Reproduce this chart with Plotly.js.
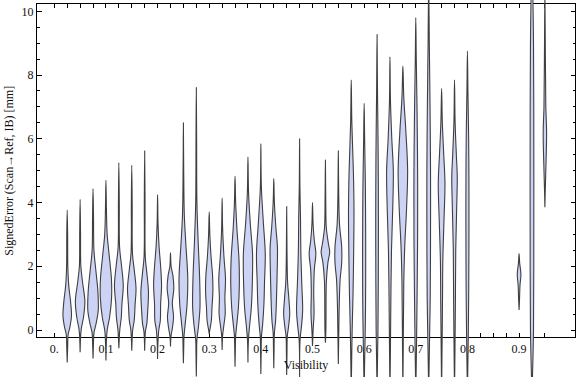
<!DOCTYPE html>
<html>
<head>
<meta charset="utf-8">
<script src="https://cdn.plot.ly/plotly-3.0.1.min.js"></script>
<style>html,body{margin:0;padding:0;background:#fff;}#chart{width:576px;height:377px;}</style>
</head>
<body>
<div id="chart"></div>
<script>
// Violin centres (Visibility bins)
const visibility = [0.025,0.05,0.075,0.1,0.125,0.15,0.175,0.2,0.225,0.25,0.275,0.3,0.325,0.35,0.375,0.4,
  0.425,0.45,0.475,0.5,0.525,0.55,0.575,0.6,0.625,0.65,0.675,0.7,0.725,0.75,0.775,0.8,0.9,0.925,0.95];

// Density profile of each violin: signed error levels (mm), top to bottom
const knotY = [
  [3.76,3.0,2.0,1.4,0.9,0.45,0.1,-0.15,-0.5,-1.02],
  [4.1,3.0,2.0,1.5,0.9,0.4,0.05,-0.2,-0.7],
  [4.44,3.5,2.5,1.9,1.2,0.6,0.2,-0.1,-0.5,-0.89],
  [4.7,3.8,3.0,2.4,1.6,1.0,0.4,0.0,-0.4,-0.96],
  [5.25,4.0,2.6,2.0,1.4,0.8,0.4,0.0,-0.3,-0.57],
  [5.17,4.0,2.4,1.9,1.3,0.8,0.3,0.0,-0.3,-0.65],
  [5.62,4.0,2.3,1.8,1.2,0.6,0.2,-0.05,-0.3,-0.65],
  [4.25,3.3,2.6,2.0,1.4,0.8,0.3,0.0,-0.4,-0.91],
  [2.42,2.0,1.7,1.3,0.85,0.4,0.05,-0.2,-0.52],
  [6.5,5.0,3.6,2.7,1.6,0.8,0.2,-0.2,-0.6,-1.04],
  [7.61,6.0,4.0,2.8,1.6,0.7,0.1,-0.3,-0.8,-1.46],
  [3.71,3.0,2.3,1.7,1.2,0.7,0.3,0.0,-0.12],
  [4.14,3.2,2.3,1.6,1.0,0.5,0.1,-0.2,-0.63],
  [4.83,4.0,3.2,2.2,1.4,0.7,0.2,-0.2,-0.6,-1.15],
  [5.43,4.3,3.3,2.4,1.5,0.7,0.1,-0.3,-1.02],
  [5.85,4.5,3.4,2.4,1.5,0.8,0.2,-0.2,-0.7,-1.38],
  [4.75,4.0,3.2,2.6,1.8,1.0,0.3,-0.1,-0.6,-1.2],
  [3.87,2.5,1.5,1.0,0.5,0.1,-0.2,-0.7,-1.41],
  [6.0,4.5,3.5,2.5,1.5,0.6,0.1,-0.3,-1.5],
  [4.0,3.3,2.8,2.4,1.9,1.2,0.5,0.0,-0.5],
  [5.33,4.0,3.2,2.7,2.45,2.1,1.5,0.5,0.0,-0.4],
  [5.62,4.2,3.3,2.6,2.1,1.6,0.8,0.0,-1.07],
  [7.84,6.5,5.0,3.8,2.5,1.2,0.0,-1.0,-2.0],
  [7.11,6.0,4.5,3.0,1.5,0.3,-1.0,-2.0],
  [9.27,7.5,5.5,3.5,1.5,0.0,-1.0,-2.0],
  [8.57,7.2,6.0,5.0,3.8,2.5,1.0,-0.5,-2.0],
  [8.28,7.3,6.2,5.0,3.8,2.6,1.5,0.0,-2.0],
  [9.8,8.5,7.0,5.0,3.0,1.2,0.0,-1.0,-2.0],
  [11.0,9.0,7.0,5.0,3.0,1.0,-0.5,-2.0],
  [7.58,6.5,5.5,4.6,3.5,2.2,1.0,0.0,-2.0],
  [7.84,6.5,5.5,4.8,3.8,2.5,1.0,-0.5,-2.0],
  [8.75,7.5,6.0,4.5,3.0,1.5,0.0,-1.0,-2.0],
  [2.4,2.1,1.75,1.4,1.0,0.63],
  [11.5,9.0,6.0,3.0,0.0,-2.0],
  [10.6,8.5,7.0,6.2,5.0,4.3,3.85]
];
// Relative density (half-width, 1 = widest) at each level above
const knotW = [
  [0,0.07,0.1,0.25,0.55,0.7,0.45,0.15,0.08,0],
  [0,0.07,0.12,0.4,0.78,0.55,0.2,0.08,0],
  [0,0.08,0.15,0.45,0.8,0.85,0.5,0.15,0.06,0],
  [0,0.08,0.2,0.5,0.9,0.92,0.6,0.2,0.07,0],
  [0,0.07,0.12,0.45,0.72,0.5,0.4,0.15,0.06,0],
  [0,0.07,0.12,0.4,0.7,0.55,0.4,0.15,0.06,0],
  [0,0.06,0.1,0.35,0.62,0.5,0.35,0.12,0.05,0],
  [0,0.08,0.25,0.5,0.65,0.5,0.45,0.2,0.06,0],
  [0,0.1,0.4,0.55,0.3,0.5,0.3,0.08,0],
  [0,0.05,0.15,0.4,0.72,0.6,0.3,0.1,0.05,0],
  [0,0.05,0.1,0.3,0.55,0.6,0.35,0.1,0.05,0],
  [0,0.1,0.3,0.55,0.6,0.45,0.35,0.1,0],
  [0,0.08,0.3,0.55,0.45,0.5,0.25,0.07,0],
  [0,0.1,0.3,0.65,0.7,0.55,0.3,0.1,0.05,0],
  [0,0.1,0.4,0.75,0.72,0.55,0.25,0.08,0],
  [0,0.08,0.4,0.72,0.6,0.5,0.3,0.1,0.05,0],
  [0,0.1,0.35,0.6,0.55,0.45,0.3,0.1,0.05,0],
  [0,0.05,0.15,0.35,0.5,0.3,0.1,0.05,0],
  [0,0.05,0.15,0.2,0.35,0.5,0.3,0.08,0],
  [0,0.1,0.3,0.55,0.3,0.2,0.25,0.1,0],
  [0,0.06,0.15,0.5,0.7,0.4,0.15,0.1,0.08,0],
  [0,0.07,0.2,0.55,0.55,0.3,0.15,0.08,0],
  [0,0.1,0.35,0.45,0.4,0.3,0.15,0.07,0],
  [0,0.08,0.2,0.25,0.25,0.2,0.08,0],
  [0,0.07,0.18,0.22,0.2,0.15,0.07,0],
  [0,0.08,0.3,0.55,0.45,0.25,0.15,0.08,0],
  [0,0.15,0.5,0.78,0.6,0.3,0.15,0.08,0],
  [0,0.08,0.2,0.3,0.3,0.22,0.15,0.08,0],
  [0,0.1,0.22,0.3,0.3,0.25,0.12,0],
  [0,0.12,0.35,0.55,0.4,0.2,0.15,0.1,0],
  [0,0.1,0.3,0.45,0.35,0.2,0.15,0.08,0],
  [0,0.08,0.2,0.25,0.25,0.22,0.15,0.08,0],
  [0,0.1,0.3,0.15,0.08,0],
  [0,0.25,0.3,0.3,0.25,0],
  [0,0.08,0.15,0.28,0.15,0.05,0]
];

const xTickVals = [0,0.1,0.2,0.3,0.4,0.5,0.6,0.7,0.8,0.9];
const xTickText = ["0.","0.1","0.2","0.3","0.4","0.5","0.6","0.7","0.8","0.9"];
const xMinorVals = [0.025,0.05,0.075,0.125,0.15,0.175,0.225,0.25,0.275,0.325,0.35,0.375,0.425,0.45,0.475,
  0.525,0.55,0.575,0.625,0.65,0.675,0.725,0.75,0.775,0.825,0.85,0.875,0.925,0.95];
const yTickVals = [0,2,4,6,8,10];
const yTickText = ["0","2","4","6","8","10"];

// ---- geometry / style ----
const HALF = 0.0118;              // x-units for relative density 1
const xRange = [-0.0335, 1.0083];
const yRange = [-0.229, 10.22];
const yDom = [0.1053, 0.9886];
const perDom = (yRange[1]-yRange[0])/(yDom[1]-yDom[0]);
const y2Range = [yRange[0]-yDom[0]*perDom, yRange[1]+(1-yDom[1])*perDom];

const traces = visibility.map((v,i)=>{
  const ys = knotY[i], ws = knotW[i];
  const xs=[], yy=[];
  for (let k=0;k<ys.length;k++){ xs.push(v+ws[k]*HALF); yy.push(ys[k]); }
  for (let k=ys.length-1;k>=0;k--){ xs.push(v-ws[k]*HALF); yy.push(ys[k]); }
  return {type:'scatter', mode:'lines', x:xs, y:yy, xaxis:'x2', yaxis:'y2',
    fill:'toself', fillcolor:'#ccd3f5',
    line:{color:'#3f3f3f', width:1.1, shape:'spline', smoothing:1},
    hoverinfo:'skip', showlegend:false};
});
// dummy trace to instantiate main axes
traces.unshift({type:'scatter', mode:'markers', x:[0], y:[0], marker:{opacity:0}, hoverinfo:'skip', showlegend:false});

const font = {family:'"Liberation Serif", "DejaVu Serif", serif', size:12, color:'#111'};
const layout = {
  width:576, height:377,
  margin:{l:36.5, r:1, t:0, b:0, pad:0},
  paper_bgcolor:'#fff', plot_bgcolor:'rgba(0,0,0,0)',
  font: font,
  showlegend:false,
  xaxis:{domain:[0,1], range:xRange, showgrid:false, zeroline:false, showline:true, linecolor:'#000', linewidth:1,
    mirror:'ticks', ticks:'inside', ticklen:4, tickcolor:'#000', tickwidth:1,
    tickmode:'array', tickvals:xTickVals, ticktext:xTickText,
    minor:{tickmode:'array', tickvals:xMinorVals, ticks:'inside', ticklen:4, tickcolor:'#000', tickwidth:1, showgrid:false},
    tickfont:font, title:{text:'Visibility', font:font, standoff:5}, automargin:false},
  yaxis:{domain:yDom, range:yRange, showgrid:false, zeroline:false, showline:true, linecolor:'#000', linewidth:1,
    mirror:'ticks', ticks:'inside', ticklen:4.5, tickcolor:'#000', tickwidth:1,
    tickmode:'array', tickvals:yTickVals, ticktext:yTickText,
    minor:{dtick:0.5, tick0:0, ticks:'inside', ticklen:2.5, tickcolor:'#000', tickwidth:1, showgrid:false},
    tickfont:font, title:{text:'SignedError (Scan\u2192Ref, IB) [mm]', font:font, standoff:5}, automargin:false},
  xaxis2:{domain:[0,1], range:xRange, visible:false, anchor:'y2'},
  yaxis2:{domain:[0,1], range:y2Range, visible:false, anchor:'x2'}
};
Plotly.newPlot('chart', traces, layout, {staticPlot:true, displayModeBar:false});
</script>
</body>
</html>
